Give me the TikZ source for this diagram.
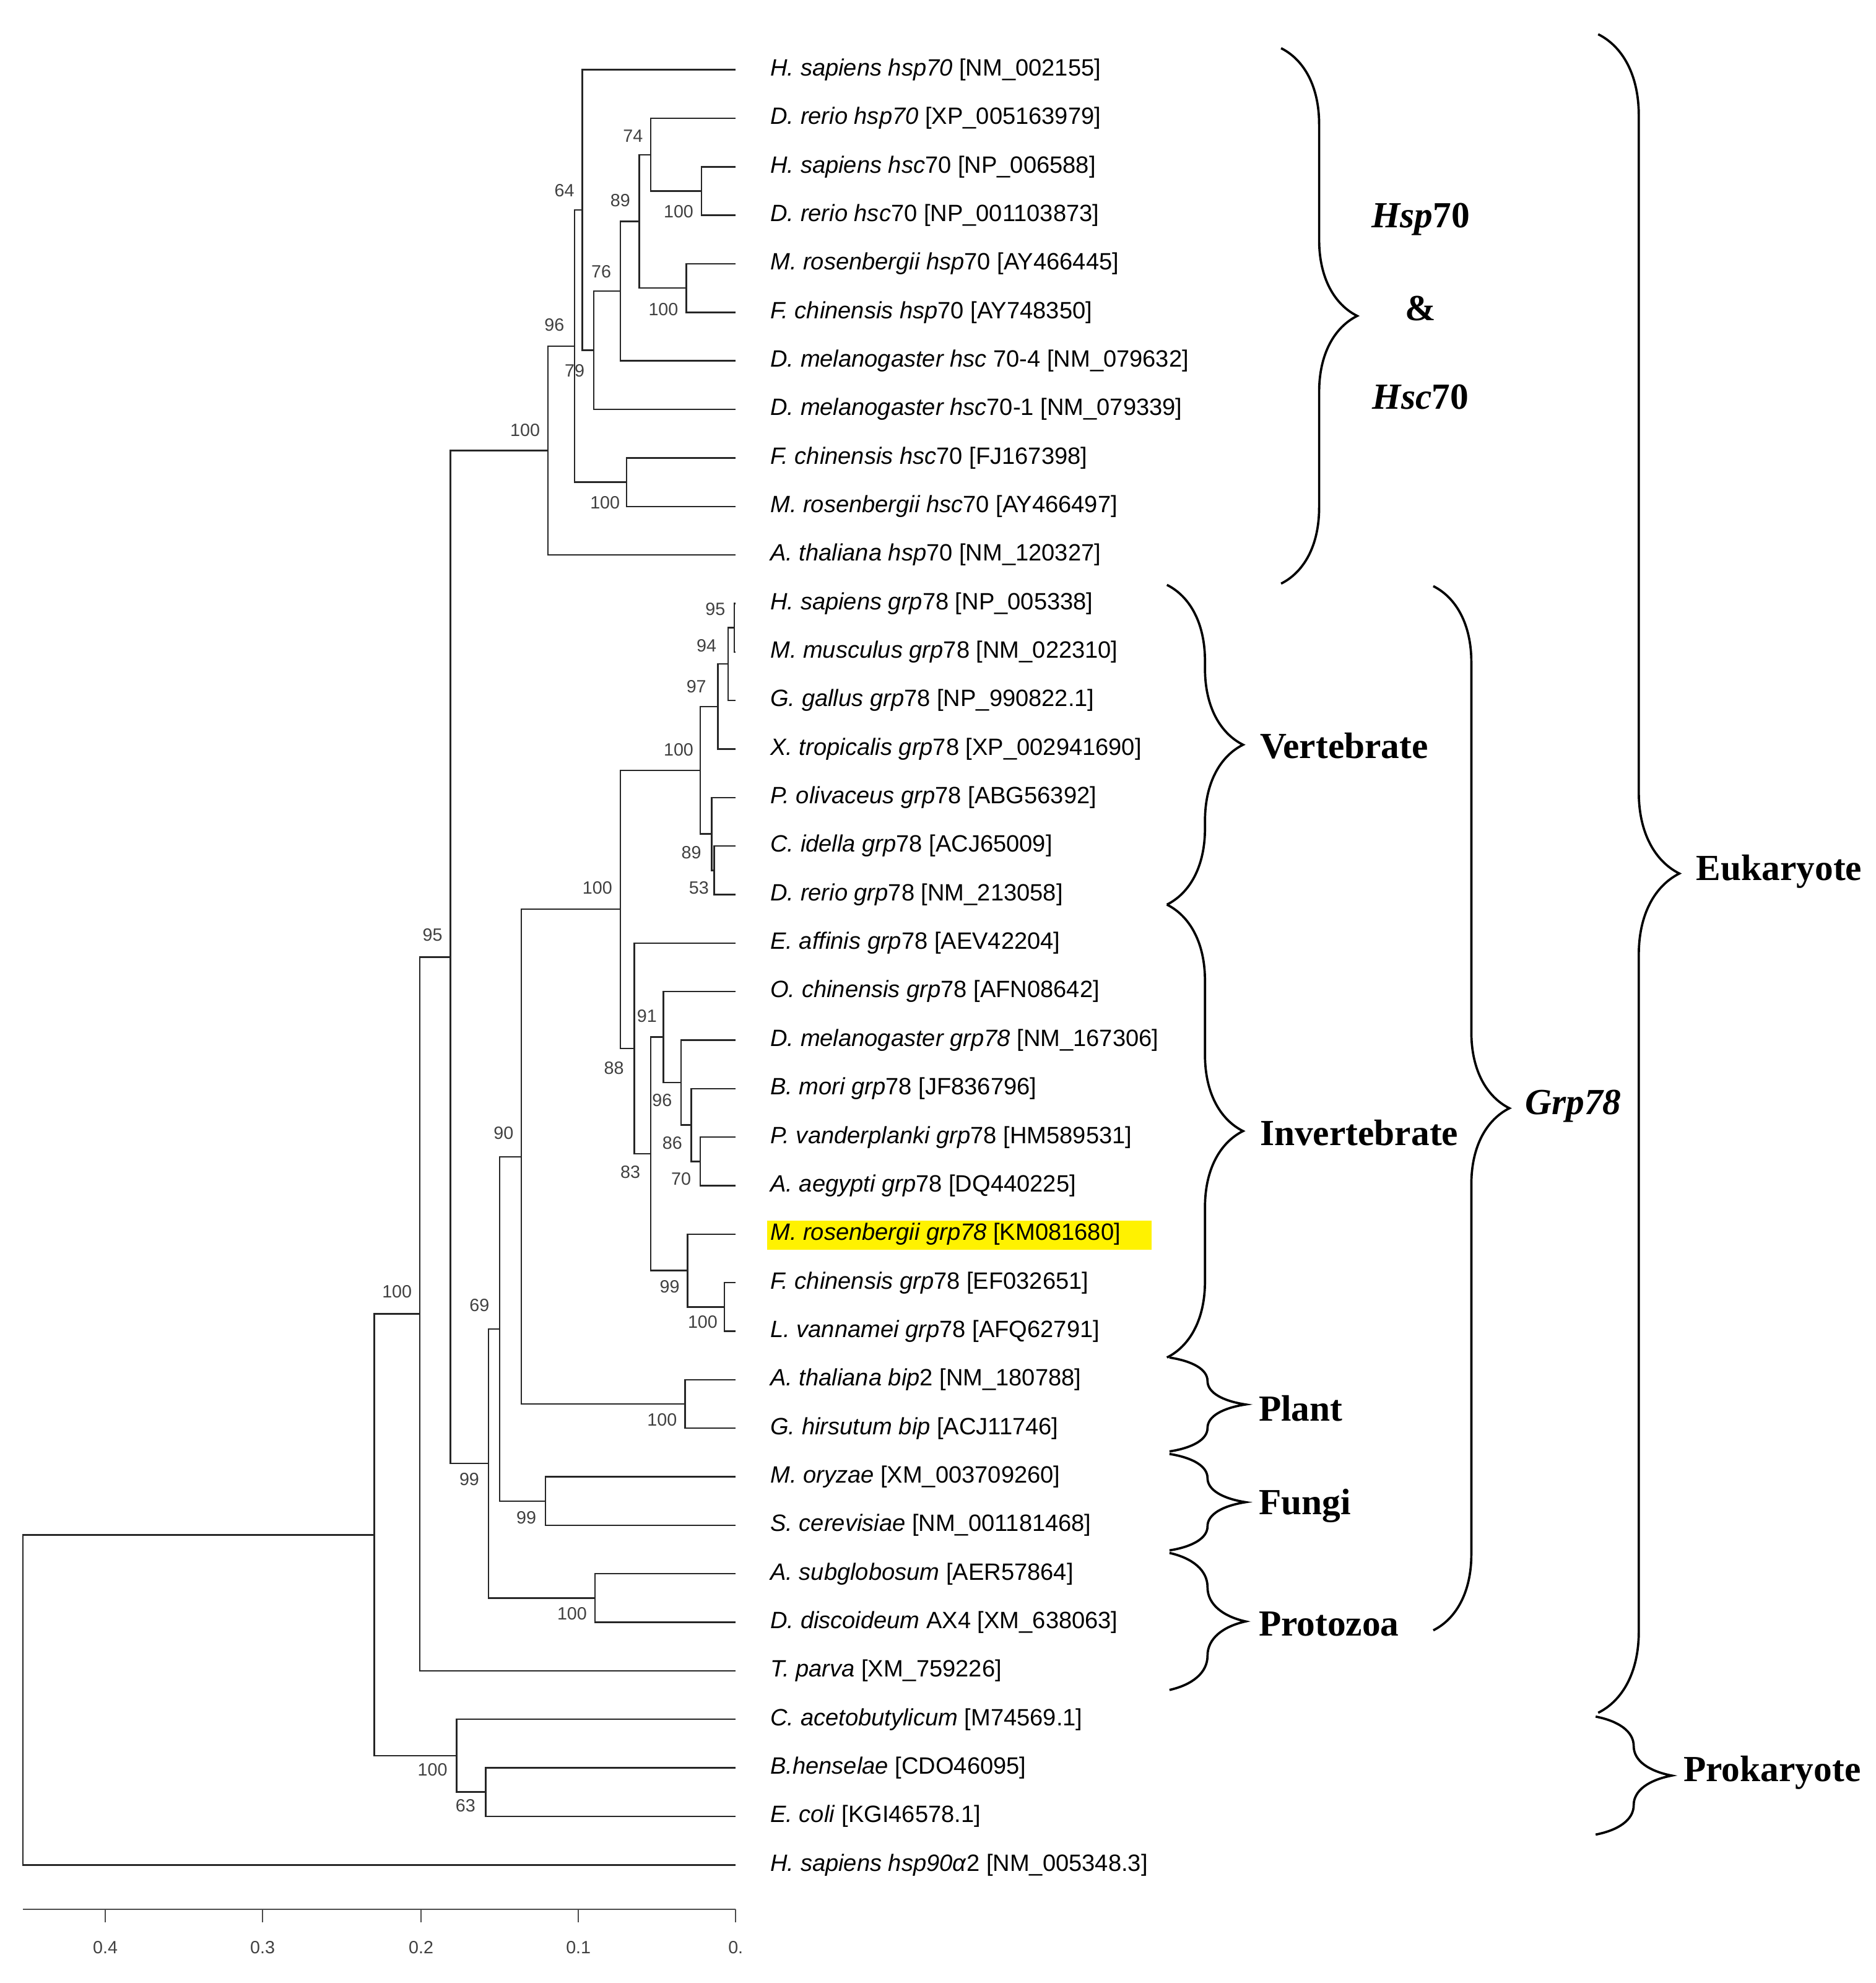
\documentclass[tikz,border=0pt]{standalone}
\usepackage{fontspec}
\setmainfont{Liberation Serif}
\newfontfamily\arial{Liberation Sans}
\usetikzlibrary{decorations.pathreplacing}
\begin{document}
\begin{tikzpicture}[x=0.5pt,y=-0.5pt,
  br/.style={line width=0.6pt,black!85},
  tx/.style={anchor=west,font=\arial\fontsize{9.3}{10}\selectfont,inner sep=0pt},
  bs/.style={font=\arial\fontsize{7}{8}\selectfont,text=black!75,inner sep=0pt},
  cb/.style={line width=0.9pt,decorate,decoration={brace,amplitude=#1}},
  gl/.style={anchor=west,font=\bfseries\fontsize{14.5}{16}\selectfont,inner sep=0pt}]
\useasboundingbox (0,0) rectangle (1479,1563);
% leaves
\foreach \i in {0,...,37}{\coordinate (L\i) at (580,{55+38.24*\i});}
% internal nodes
\coordinate (H8) at (553,150.6); \coordinate (H7) at (513,121.9);
\coordinate (H9) at (541,227.1); \coordinate (H6) at (504,174.5);
\coordinate (H5) at (489,229.5); \coordinate (H4) at (468,276.1);
\coordinate (H3) at (459,165.6); \coordinate (HS) at (494,380);
\coordinate (H2) at (453,272.8); \coordinate (H) at (432,355.1);
\coordinate (V3) at (579,494.8); \coordinate (V2) at (574,523.4);
\coordinate (V1) at (566,556.9); \coordinate (V5) at (563,686);
\coordinate (V4) at (561,657.3); \coordinate (V) at (552,607.1);
\coordinate (I6) at (552,915.4); \coordinate (I5) at (545,886.7);
\coordinate (I4) at (537,853.2); \coordinate (I3) at (523,817.4);
\coordinate (I8) at (571,1030.1); \coordinate (I7) at (542,1001.5);
\coordinate (I2) at (513,909.4); \coordinate (I) at (500,826.4);
\coordinate (G4) at (489,716.7); \coordinate (PL) at (540,1106.6);
\coordinate (G3) at (411,911.7); \coordinate (FU) at (430,1183.1);
\coordinate (G2) at (394,1047.4); \coordinate (PR) at (469,1259.6);
\coordinate (G) at (385,1153.5); \coordinate (F) at (355,754.3);
\coordinate (E) at (331,1035.6); \coordinate (Q) at (383,1412.5);
\coordinate (P) at (360,1383.9); \coordinate (A) at (295,1209.8);
\coordinate (R) at (18,1339.8);
\foreach \p/\a/\b in {H8/L2/L3,H7/L1/H8,H9/L4/L5,H6/H7/H9,H5/H6/L6,H4/H5/L7,H3/L0/H4,HS/L8/L9,H2/H3/HS,H/H2/L10,
 V3/L11/L12,V2/V3/L13,V1/V2/L14,V5/L16/L17,V4/L15/V5,V/V1/V4,
 I6/L22/L23,I5/L21/I6,I4/L20/I5,I3/L19/I4,I8/L25/L26,I7/L24/I8,I2/I3/I7,I/L18/I2,
 G4/V/I,PL/L27/L28,G3/G4/PL,FU/L29/L30,G2/G3/FU,PR/L31/L32,G/G2/PR,F/H/G,E/F/L33,
 Q/L35/L36,P/L34/Q,A/E/P,R/A/L37}
 {\draw[br] (\p) |- (\a); \draw[br] (\p) |- (\b);}
% bootstrap values
\foreach \x/\y/\t in {499/107/74,445/150/64,489/158/89,535/167/100,474/214/76,523/244/100,437/256/96,453/292/79,414/339/100,477/396/100,
 564/480/95,557/509/94,549/541/97,535/591/100,545/672/89,551/700/53,471/700/100,510/801/91,484/842/88,522/867/96,530/901/86,497/924/83,537/929/70,528/1014/99,554/1042/100,
 522/1119/100,397/893/90,378/1029/69,370/1166/99,415/1196/99,451/1272/100,341/737/95,313/1018/100,341/1395/100,367/1423/63}
 {\node[bs] at (\x,\y) {\t};}
% highlight
\fill[yellow] (605,962) rectangle (908,985);
% taxa
\newcommand\tl[2]{\node[tx] at ([xshift=13.5pt]L#1) {#2};}
\tl{0}{\textit{H. sapiens hsp70} [NM\_002155]}
\tl{1}{\textit{D. rerio hsp70} [XP\_005163979]}
\tl{2}{\textit{H. sapiens hsc}70 [NP\_006588]}
\tl{3}{\textit{D. rerio hsc}70 [NP\_001103873]}
\tl{4}{\textit{M. rosenbergii hsp}70 [AY466445]}
\tl{5}{\textit{F. chinensis hsp}70 [AY748350]}
\tl{6}{\textit{D. melanogaster hsc} 70-4 [NM\_079632]}
\tl{7}{\textit{D. melanogaster hsc}70-1 [NM\_079339]}
\tl{8}{\textit{F. chinensis hsc}70 [FJ167398]}
\tl{9}{\textit{M. rosenbergii hsc}70 [AY466497]}
\tl{10}{\textit{A. thaliana hsp}70 [NM\_120327]}
\tl{11}{\textit{H. sapiens grp}78 [NP\_005338]}
\tl{12}{\textit{M. musculus grp}78 [NM\_022310]}
\tl{13}{\textit{G. gallus grp}78 [NP\_990822.1]}
\tl{14}{\textit{X. tropicalis grp}78 [XP\_002941690]}
\tl{15}{\textit{P. olivaceus grp}78 [ABG56392]}
\tl{16}{\textit{C. idella grp}78 [ACJ65009]}
\tl{17}{\textit{D. rerio grp}78 [NM\_213058]}
\tl{18}{\textit{E. affinis grp}78 [AEV42204]}
\tl{19}{\textit{O. chinensis grp}78 [AFN08642]}
\tl{20}{\textit{D. melanogaster grp78} [NM\_167306]}
\tl{21}{\textit{B. mori grp}78 [JF836796]}
\tl{22}{\textit{P. vanderplanki grp}78 [HM589531]}
\tl{23}{\textit{A. aegypti grp}78 [DQ440225]}
\tl{24}{\textit{M. rosenbergii grp78} [KM081680]}
\tl{25}{\textit{F. chinensis grp}78 [EF032651]}
\tl{26}{\textit{L. vannamei grp}78 [AFQ62791]}
\tl{27}{\textit{A. thaliana bip}2 [NM\_180788]}
\tl{28}{\textit{G. hirsutum bip} [ACJ11746]}
\tl{29}{\textit{M. oryzae} [XM\_003709260]}
\tl{30}{\textit{S. cerevisiae} [NM\_001181468]}
\tl{31}{\textit{A. subglobosum} [AER57864]}
\tl{32}{\textit{D. discoideum} AX4 [XM\_638063]}
\tl{33}{\textit{T. parva} [XM\_759226]}
\tl{34}{\textit{C. acetobutylicum} [M74569.1]}
\tl{35}{\textit{B.henselae} [CDO46095]}
\tl{36}{\textit{E. coli} [KGI46578.1]}
\tl{37}{\textit{H. sapiens hsp90α}2 [NM\_005348.3]}
% braces
\coordinate (b1t) at (1010,38); \coordinate (b1b) at (1010,460);
\draw[cb=30pt] (b1t) -- (b1b);
\node[font=\bfseries\fontsize{14.5}{16}\selectfont] (g1a) at (1120,173) {\textit{Hsp}70};
\node[font=\bfseries\fontsize{14.5}{16}\selectfont] (g1b) at (1120,243) {\&};
\node[font=\bfseries\fontsize{14.5}{16}\selectfont] (g1c) at (1120,313) {\textit{Hsc}70};
\coordinate (b2t) at (920,461); \coordinate (b2b) at (920,713);
\draw[cb=30pt] (b2t) -- (b2b); \node[gl] (g2) at (993,588) {Vertebrate};
\coordinate (b3t) at (920,713); \coordinate (b3b) at (920,1070);
\draw[cb=30pt] (b3t) -- (b3b); \node[gl] (g3) at (993,893) {Invertebrate};
\coordinate (b4t) at (922,1070); \coordinate (b4b) at (922,1144);
\draw[cb=30pt] (b4t) -- (b4b); \node[gl] (g4) at (992,1110) {Plant};
\coordinate (b5t) at (922,1146); \coordinate (b5b) at (922,1222);
\draw[cb=30pt] (b5t) -- (b5b); \node[gl] (g5) at (992,1187) {Fungi};
\coordinate (b6t) at (922,1224); \coordinate (b6b) at (922,1332);
\draw[cb=30pt] (b6t) -- (b6b); \node[gl] (g6) at (992,1280) {Protozoa};
\coordinate (b7t) at (1130,462); \coordinate (b7b) at (1130,1285);
\draw[cb=30pt] (b7t) -- (b7b); \node[gl] (g7) at (1202,872) {\textit{Grp78}};
\coordinate (b8t) at (1260,27); \coordinate (b8b) at (1260,1350);
\draw[cb=32pt] (b8t) -- (b8b); \node[gl] (g8) at (1337,687) {Eukaryote};
\coordinate (b9t) at (1258,1353); \coordinate (b9b) at (1258,1446);
\draw[cb=30pt] (b9t) -- (b9b); \node[gl] (g9) at (1327,1397) {Prokaryote};
% scale axis
\coordinate (s0) at (18,1505); \coordinate (s1) at (580,1505);
\draw[line width=0.6pt,black!70] (s0) -- (s1);
\foreach \x/\t in {83/0.4,207/0.3,332/0.2,456/0.1,580/0.}{
  \draw[line width=0.6pt,black!70] (\x,1505) -- (\x,1515);
  \node[bs] at (\x,1535) {\t};}
\end{tikzpicture}
\end{document}
